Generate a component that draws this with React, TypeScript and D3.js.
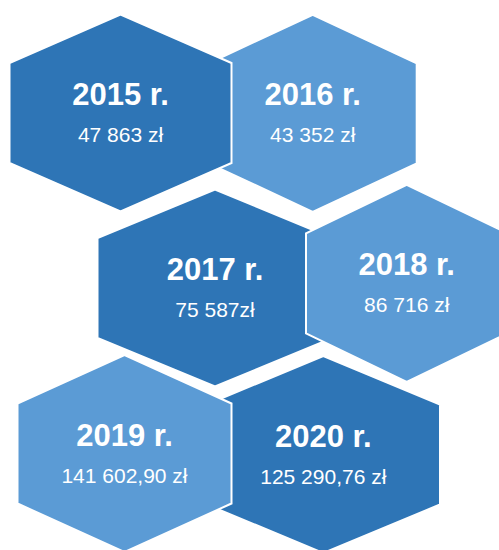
import React from 'react';
import * as d3 from 'd3';

// values
const years = ['2015', '2016', '2017', '2018', '2019', '2020'];
const amounts = ['47 863 zł', '43 352 zł', '75 587zł', '86 716 zł', '141 602,90 zł', '125 290,76 zł'];

const DARK = '#2E75B6';
const LIGHT = '#5B9BD5';

// where each hexagon sits (layout only)
const layout = [
  { cx: 120.5, cy: 113, rx: 111, fill: DARK },
  { cx: 312.7, cy: 113.3, rx: 104, fill: LIGHT },
  { cx: 215, cy: 288, rx: 117.5, fill: DARK },
  { cx: 406.7, cy: 283.3, rx: 100.7, fill: LIGHT },
  { cx: 124.5, cy: 453.5, rx: 107, fill: LIGHT },
  { cx: 323.3, cy: 454.5, rx: 116.7, fill: DARK }
];
// later ones are painted on top
const drawOrder = [1, 0, 2, 3, 5, 4];

const RY = 98.5;
const SIDE = 50;

const hexLine = d3
  .line<[number, number]>()
  .x(d => d[0])
  .y(d => d[1])
  .curve(d3.curveLinearClosed);

function hexPath(cx: number, cy: number, rx: number) {
  return hexLine([
    [cx, cy - RY],
    [cx + rx, cy - SIDE],
    [cx + rx, cy + SIDE],
    [cx, cy + RY],
    [cx - rx, cy + SIDE],
    [cx - rx, cy - SIDE]
  ]);
}

const Hex = ({ i }: { i: number }) => {
  const { cx, cy, rx, fill } = layout[i];
  return (
    <g>
      <path d={hexPath(cx, cy, rx) || ''} fill={fill} stroke="white" strokeWidth={2} />
      <text
        x={cx}
        y={cy - 8}
        textAnchor="middle"
        fill="white"
        fontWeight="bold"
        fontSize={31}
      >
        {years[i]} r.
      </text>
      <text x={cx} y={cy + 29} textAnchor="middle" fill="white" fontSize={21}>
        {amounts[i]}
      </text>
    </g>
  );
};

export default function App() {
  return (
    <svg
      width={499}
      height={550}
      style={{ position: 'absolute', left: 0, top: 0, fontFamily: '"Liberation Sans", Arial, sans-serif' }}
    >
      <rect width={499} height={550} fill="white" />
      {drawOrder.map(i => (
        <Hex key={years[i]} i={i} />
      ))}
    </svg>
  );
}
